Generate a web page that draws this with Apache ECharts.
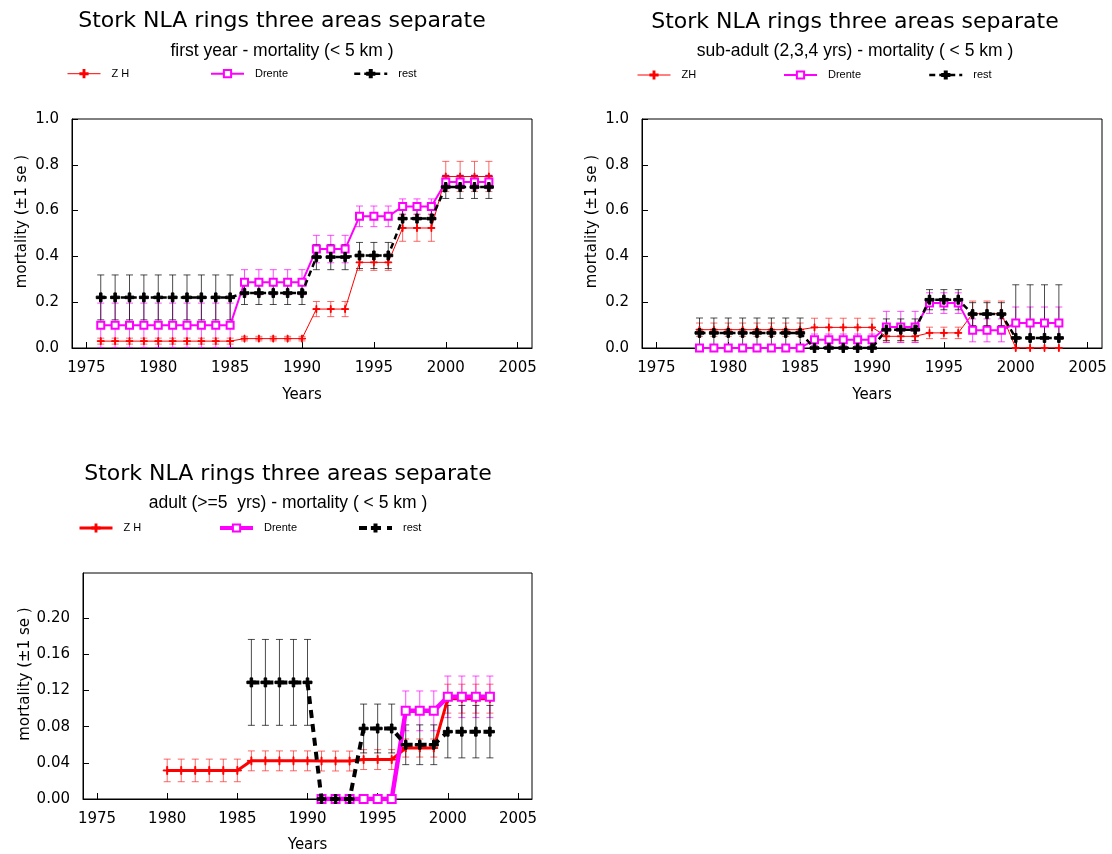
<!DOCTYPE html>
<html><head><meta charset="utf-8">
<script src="https://cdn.jsdelivr.net/npm/echarts@6/dist/echarts.min.js"></script>
<style>html,body{margin:0;padding:0;background:#fff}#c{width:1112px;height:854px}</style>
</head><body><div id="c"></div>
<script>
// ---------- data ----------
const xTickYears = [1975, 1980, 1985, 1990, 1995, 2000, 2005];
const yTicks12 = [0, 0.2, 0.4, 0.6, 0.8, 1.0];
const yTicks3 = [0, 0.04, 0.08, 0.12, 0.16, 0.20];

// chart 1: first year
const years1 = [1976,1977,1978,1979,1980,1981,1982,1983,1984,1985,1986,1987,1988,1989,1990,1991,1992,1993,1994,1995,1996,1997,1998,1999,2000,2001,2002,2003];
const zh1    = [0.030,0.030,0.030,0.030,0.030,0.030,0.030,0.030,0.030,0.030,0.041,0.041,0.041,0.041,0.041,0.170,0.170,0.170,0.374,0.374,0.374,0.524,0.524,0.524,0.749,0.749,0.749,0.749];
const zhSe1  = [0.013,0.013,0.013,0.013,0.013,0.013,0.013,0.013,0.013,0.013,0.010,0.010,0.010,0.010,0.010,0.033,0.033,0.033,0.035,0.035,0.035,0.058,0.058,0.058,0.066,0.066,0.066,0.066];
const dr1    = [0.099,0.099,0.099,0.099,0.099,0.099,0.099,0.099,0.099,0.099,0.287,0.287,0.287,0.287,0.287,0.432,0.432,0.432,0.575,0.575,0.575,0.618,0.618,0.618,0.725,0.725,0.725,0.725];
const drSe1  = [0.097,0.097,0.097,0.097,0.097,0.097,0.097,0.097,0.097,0.097,0.055,0.055,0.055,0.055,0.055,0.060,0.060,0.060,0.045,0.045,0.045,0.033,0.033,0.033,0.030,0.030,0.030,0.030];
const rest1  = [0.221,0.221,0.221,0.221,0.221,0.221,0.221,0.221,0.221,0.221,0.240,0.240,0.240,0.240,0.240,0.397,0.397,0.397,0.404,0.404,0.404,0.565,0.565,0.565,0.703,0.703,0.703,0.703];
const restSe1= [0.098,0.098,0.098,0.098,0.098,0.098,0.098,0.098,0.098,0.098,0.050,0.050,0.050,0.050,0.050,0.055,0.055,0.055,0.057,0.057,0.057,0.040,0.040,0.040,0.050,0.050,0.050,0.050];

// chart 2: sub-adult
const years2 = [1978,1979,1980,1981,1982,1983,1984,1985,1986,1987,1988,1989,1990,1991,1992,1993,1994,1995,1996,1997,1998,1999,2000,2001,2002,2003];
const zh2    = [0.080,0.080,0.080,0.080,0.080,0.080,0.080,0.080,0.090,0.090,0.090,0.090,0.090,0.051,0.051,0.051,0.066,0.066,0.066,0.150,0.150,0.150,0,0,0,0];
const zhSe2  = [0.029,0.029,0.029,0.029,0.029,0.029,0.029,0.029,0.040,0.040,0.040,0.040,0.040,0.025,0.025,0.025,0.025,0.025,0.025,0.055,0.055,0.055,0,0,0,0];
const dr2    = [0,0,0,0,0,0,0,0,0.036,0.036,0.036,0.036,0.036,0.092,0.092,0.092,0.196,0.196,0.196,0.077,0.077,0.077,0.109,0.109,0.109,0.109];
const drSe2  = [0,0,0,0,0,0,0,0,0.025,0.025,0.025,0.025,0.025,0.068,0.068,0.068,0.045,0.045,0.045,0.050,0.050,0.050,0.070,0.070,0.070,0.070];
const rest2  = [0.066,0.066,0.066,0.066,0.066,0.066,0.066,0.066,0,0,0,0,0,0.080,0.080,0.080,0.211,0.211,0.211,0.148,0.148,0.148,0.044,0.044,0.044,0.044];
const restSe2= [0.065,0.065,0.065,0.065,0.065,0.065,0.065,0.065,0,0,0,0,0,0.047,0.047,0.047,0.044,0.044,0.044,0.050,0.050,0.050,0.232,0.232,0.232,0.232];

// chart 3: adult
const years3zh = [1980,1981,1982,1983,1984,1985,1986,1987,1988,1989,1990,1991,1992,1993,1994,1995,1996,1997,1998,1999,2000,2001,2002,2003];
const zh3      = [0.0316,0.0316,0.0316,0.0316,0.0316,0.0316,0.0422,0.0422,0.0422,0.0422,0.0422,0.042,0.042,0.042,0.0436,0.0436,0.0436,0.0564,0.0564,0.0564,0.111,0.111,0.111,0.111];
const zhSe3    = [0.0125,0.0125,0.0125,0.0125,0.0125,0.0125,0.011,0.011,0.011,0.011,0.011,0.011,0.011,0.011,0.011,0.011,0.011,0.010,0.010,0.010,0.016,0.016,0.016,0.016];
const years3dr = [1991,1992,1993,1994,1995,1996,1997,1998,1999,2000,2001,2002,2003];
const dr3      = [0,0,0,0,0,0,0.0975,0.0975,0.0975,0.113,0.113,0.113,0.113];
const drSe3    = [0,0,0,0,0,0,0.022,0.022,0.022,0.023,0.023,0.023,0.023];
const years3rest = [1986,1987,1988,1989,1990,1991,1992,1993,1994,1995,1996,1997,1998,1999,2000,2001,2002,2003];
const rest3      = [0.129,0.129,0.129,0.129,0.129,0,0,0,0.078,0.078,0.078,0.060,0.060,0.060,0.0745,0.0745,0.0745,0.0745];
const restSe3    = [0.0475,0.0475,0.0475,0.0475,0.0475,0,0,0,0.027,0.027,0.027,0.022,0.022,0.022,0.029,0.029,0.029,0.029];

const legendLabels = {zh1:'Z H', dr1:'Drente', rest1:'rest', zh2:'ZH', dr2:'Drente', rest2:'rest', zh3:'Z H', dr3:'Drente', rest3:'rest'};

// ---------- helpers ----------
const RED = '#ff0000', MAG = '#ff00ff', BLK = '#000000';
const PLUS_THIN = 'path://M0,4.4H10V5.6H0ZM4.4,0H5.6V10H4.4Z';
const PLUS_BOLD = 'path://M0,3.6H10V6.4H0ZM3.6,0H6.4V10H3.6Z';
const AX_FONT = 'DejaVu Sans';

function pairs(xs, ys) { return xs.map((x, i) => [x, ys[i]]); }
function triples(xs, ys, es) { return xs.map((x, i) => [x, ys[i], es[i]]); }

function errSeries(idx, xs, ys, es, color) {
  return {
    type: 'custom', xAxisIndex: idx, yAxisIndex: idx, z: 1, silent: true,
    data: triples(xs, ys, es),
    encode: {x: 0, y: 1},
    renderItem: function (params, api) {
      const x = api.value(0), v = api.value(1), s = api.value(2);
      if (!s) return null;
      const cs = params.coordSys;
      const pt = api.coord([x, v + s]);
      const pb = api.coord([x, v - s]);
      const yMin = cs.y, yMax = cs.y + cs.height;
      const y1 = Math.max(pt[1], yMin), y2 = Math.min(pb[1], yMax);
      const st = {stroke: color, lineWidth: 1};
      const ch = [{type: 'line', shape: {x1: pt[0], y1: y1, x2: pt[0], y2: y2}, style: st}];
      const hw = 3.5;
      if (pt[1] >= yMin) ch.push({type: 'line', shape: {x1: pt[0] - hw, y1: pt[1], x2: pt[0] + hw, y2: pt[1]}, style: st});
      if (pb[1] <= yMax) ch.push({type: 'line', shape: {x1: pb[0] - hw, y1: pb[1], x2: pb[0] + hw, y2: pb[1]}, style: st});
      return {type: 'group', children: ch};
    }
  };
}

function lineSeries(idx, name, xs, ys, opt) {
  return {
    type: 'line', name: name, xAxisIndex: idx, yAxisIndex: idx, z: opt.z || 3,
    data: pairs(xs, ys),
    symbol: opt.symbol, symbolSize: opt.size, showAllSymbol: true,
    lineStyle: {color: opt.color, width: opt.width, type: opt.dash || 'solid'},
    itemStyle: {color: opt.color, borderColor: opt.color, borderWidth: opt.bw || 1},
    silent: true
  };
}

function mkLegend(name, left, cy, lw) {
  return {
    data: [name], left: left, top: cy - 4.5, itemWidth: 33, itemHeight: 9, padding: 0,
    selectedMode: false, formatter: n => legendLabels[n],
    lineStyle: {width: lw},
    textStyle: {fontFamily: 'Liberation Sans', fontSize: 11, color: '#000', padding: [0, 0, 0, 6]}
  };
}

function mkTitle(text, sub, cx, top, gap) {
  return {
    text: text, subtext: sub, left: cx, top: top, textAlign: 'center', padding: 0, itemGap: gap,
    textStyle: {fontFamily: 'DejaVu Sans', fontSize: 22, fontWeight: 'normal', color: '#000', lineHeight: 24},
    subtextStyle: {fontFamily: 'Liberation Sans', fontSize: 17.5, color: '#000', lineHeight: 20}
  };
}

function mkX(idx, gap) {
  return {
    type: 'value', gridIndex: idx, min: 1974, max: 2006,
    name: 'Years', nameLocation: 'middle', nameGap: gap,
    nameTextStyle: {fontFamily: AX_FONT, fontSize: 15, color: '#000'},
    axisLine: {show: true, lineStyle: {color: '#000', width: 1}},
    axisTick: {show: true, inside: true, length: 6, customValues: xTickYears, lineStyle: {color: '#000'}},
    axisLabel: {customValues: xTickYears, margin: 13, fontFamily: AX_FONT, fontSize: 15, color: '#000',
      formatter: v => String(Math.round(v))},
    splitLine: {show: false}
  };
}

function mkY(idx, max, ticks, dec) {
  return {
    type: 'value', gridIndex: idx, min: 0, max: max,
    name: 'mortality (\u00b11 se )', nameLocation: 'middle', nameGap: 42,
    nameTextStyle: {fontFamily: AX_FONT, fontSize: 15, color: '#000', padding: [0, 0, 0, 24]},
    axisLine: {show: true, lineStyle: {color: '#000', width: 1}},
    axisTick: {show: true, inside: true, length: 6, customValues: ticks, lineStyle: {color: '#000'}},
    axisLabel: {customValues: ticks, margin: 13, fontFamily: AX_FONT, fontSize: 15, color: '#000',
      formatter: v => v.toFixed(dec)},
    splitLine: {show: false}
  };
}

const ERR_R = 'rgba(255,40,40,0.7)', ERR_M = 'rgba(255,0,255,0.7)', ERR_K = 'rgba(0,0,0,0.7)';

const chart = echarts.init(document.getElementById('c'), null, {renderer: 'canvas'});
chart.setOption({
  animation: false,
  backgroundColor: '#fff',
  title: [
    mkTitle('Stork NLA rings three areas separate', 'first year - mortality (< 5 km )', 282, 9, 8),
    mkTitle('Stork NLA rings three areas separate', 'sub-adult (2,3,4 yrs) - mortality ( < 5 km )', 855, 10, 7),
    mkTitle('Stork NLA rings three areas separate', 'adult (>=5  yrs) - mortality ( < 5 km )', 288, 462, 7.5)
  ],
  legend: [
    mkLegend('zh1', 67, 72.7, 1), mkLegend('dr1', 210, 72.7, 2), mkLegend('rest1', 353, 72.7, 2.5),
    mkLegend('zh2', 637, 74, 1), mkLegend('dr2', 783, 74, 2), mkLegend('rest2', 928, 74, 2.5),
    mkLegend('zh3', 78, 527, 3), mkLegend('dr3', 218, 527, 4), mkLegend('rest3', 357, 527, 4)
  ],
  grid: [
    {left: 72, top: 119, width: 460, height: 229, show: true, borderColor: '#000', borderWidth: 1, backgroundColor: 'transparent'},
    {left: 642, top: 119, width: 460, height: 229, show: true, borderColor: '#000', borderWidth: 1, backgroundColor: 'transparent'},
    {left: 83, top: 573, width: 449, height: 228, show: true, borderColor: '#000', borderWidth: 1, backgroundColor: 'transparent'}
  ],
  xAxis: [mkX(0, 40), mkX(1, 40), mkX(2, 39)],
  yAxis: [mkY(0, 1, yTicks12, 1), mkY(1, 1, yTicks12, 1), mkY(2, 0.25, yTicks3, 2)],
  series: [
    errSeries(0, years1, zh1, zhSe1, ERR_R),
    errSeries(0, years1, dr1, drSe1, ERR_M),
    errSeries(0, years1, rest1, restSe1, ERR_K),
    lineSeries(0, 'zh1', years1, zh1, {color: RED, width: 1, symbol: PLUS_THIN, size: 7, z: 3}),
    lineSeries(0, 'dr1', years1, dr1, {color: MAG, width: 2, symbol: 'emptyRect', size: 7, z: 4}),
    lineSeries(0, 'rest1', years1, rest1, {color: BLK, width: 2.5, dash: [6, 4], symbol: PLUS_BOLD, size: 9, z: 5}),

    errSeries(1, years2, zh2, zhSe2, ERR_R),
    errSeries(1, years2, dr2, drSe2, ERR_M),
    errSeries(1, years2, rest2, restSe2, ERR_K),
    lineSeries(1, 'zh2', years2, zh2, {color: RED, width: 1, symbol: PLUS_THIN, size: 7, z: 3}),
    lineSeries(1, 'dr2', years2, dr2, {color: MAG, width: 2, symbol: 'emptyRect', size: 7, z: 4}),
    lineSeries(1, 'rest2', years2, rest2, {color: BLK, width: 2.5, dash: [6, 4], symbol: PLUS_BOLD, size: 9, z: 5}),

    errSeries(2, years3zh, zh3, zhSe3, ERR_R),
    errSeries(2, years3dr, dr3, drSe3, ERR_M),
    errSeries(2, years3rest, rest3, restSe3, ERR_K),
    lineSeries(2, 'zh3', years3zh, zh3, {color: RED, width: 3, symbol: PLUS_THIN, size: 8, z: 3}),
    lineSeries(2, 'dr3', years3dr, dr3, {color: MAG, width: 4.5, symbol: 'emptyRect', size: 8, z: 4}),
    lineSeries(2, 'rest3', years3rest, rest3, {color: BLK, width: 4, dash: [8, 6], symbol: PLUS_BOLD, size: 9, z: 5})
  ]
});
</script>
</body></html>
